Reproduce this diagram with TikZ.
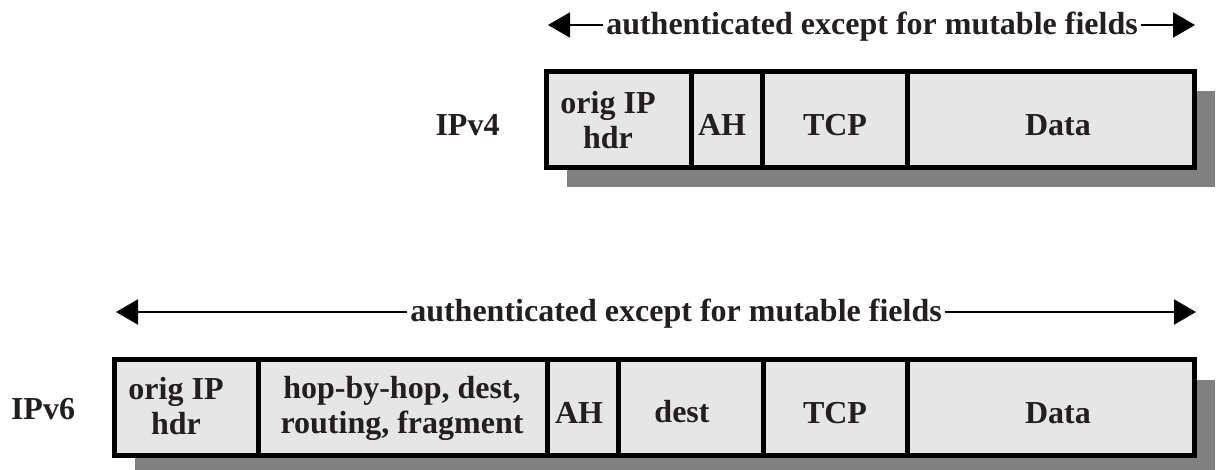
\documentclass[tikz,border=0pt]{standalone}
\usepackage{fontspec}
\setmainfont{Liberation Serif}
\usetikzlibrary{arrows.meta}
\definecolor{cellfill}{HTML}{E6E6E6}
\definecolor{shade}{HTML}{808080}
\definecolor{ink}{HTML}{231F20}
\tikzset{
  lbl/.style={font=\bfseries\fontsize{16}{17.5}\selectfont, text=ink, align=center, inner sep=0pt},
  arrlbl/.style={font=\bfseries\fontsize{16}{17.5}\selectfont, text=ink, inner sep=1.2pt},
  frame/.style={draw=black, line width=2.5pt, fill=cellfill},
  divider/.style={draw=black, line width=2.5pt},
  shadowbox/.style={fill=shade, draw=none},
  arr/.style={draw=black, line width=1pt, -{Triangle[length=11pt,width=12.5pt]}},
}
\begin{document}
\begin{tikzpicture}[x=0.5pt,y=-0.5pt]
\clip (0,0) rectangle (1218,470);
% ---------- IPv4 ----------
\fill[shadowbox] (566.5,91.5) rectangle (1214.5,187.5);
\draw[frame] (546.5,71.5) rectangle (1194.5,167.5);
\foreach \x in {691,762,907} \draw[divider] (\x,71.5) -- (\x,167.5);
\node[lbl] (v4) at (467.5,125) {IPv4};
\node[lbl] (v4ip) at (608,120) {orig IP\\hdr};
\node[lbl] (v4ah) at (722,125) {AH};
\node[lbl] (v4tcp) at (835,125) {TCP};
\node[lbl] (v4data) at (1058,125) {Data};
% top arrow
\coordinate (t4l) at (548,25);
\coordinate (t4r) at (1195,25);
\node[arrlbl, anchor=base] (a4) at (872,35) {authenticated except for mutable fields};
\draw[arr] (a4.west |- t4l) -- (t4l);
\draw[arr] (a4.east |- t4r) -- (t4r);
% ---------- IPv6 ----------
\fill[shadowbox] (134.5,379.5) rectangle (1214.5,475.5);
\draw[frame] (114.5,359.5) rectangle (1194.5,455.5);
\foreach \x in {258,547,618,763,907} \draw[divider] (\x,359.5) -- (\x,455.5);
\node[lbl] (v6) at (43,409) {IPv6};
\node[lbl] (v6ip) at (176,406) {orig IP\\hdr};
\node[lbl] (v6ext) at (402,408) {hop-by-hop, dest,\\routing, fragment};
\node[lbl] (v6ah) at (579,413) {AH};
\node[lbl] (v6dest) at (682,412) {dest};
\node[lbl] (v6tcp) at (835,413) {TCP};
\node[lbl] (v6data) at (1058,413) {Data};
% bottom arrow
\coordinate (t6l) at (116,312);
\coordinate (t6r) at (1196,312);
\node[arrlbl, anchor=base] (a6) at (676,321) {authenticated except for mutable fields};
\draw[arr] (a6.west |- t6l) -- (t6l);
\draw[arr] (a6.east |- t6r) -- (t6r);
\end{tikzpicture}
\end{document}
